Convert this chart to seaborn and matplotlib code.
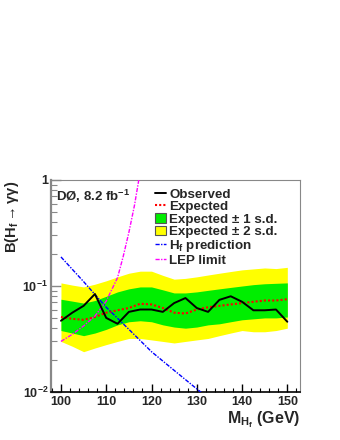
import numpy as np
import pandas as pd
import matplotlib
matplotlib.use("Agg")
import matplotlib.pyplot as plt
import seaborn as sns
from matplotlib.lines import Line2D
from matplotlib.patches import Patch
from matplotlib.ticker import FixedLocator, FixedFormatter, LogLocator, NullFormatter, MultipleLocator

mass = [100, 102.5, 105, 107.5, 110, 112.5, 115, 117.5, 120, 122.5, 125,
        127.5, 130, 132.5, 135, 137.5, 140, 142.5, 145, 147.5, 150]
observed = [0.047, 0.056, 0.065, 0.084, 0.050, 0.044, 0.057, 0.060, 0.060, 0.057, 0.069,
            0.077, 0.062, 0.057, 0.074, 0.080, 0.071, 0.059, 0.059, 0.060, 0.046]
expected = [0.051, 0.049, 0.048, 0.051, 0.056, 0.059, 0.062, 0.068, 0.067, 0.062, 0.056,
            0.055, 0.060, 0.063, 0.065, 0.067, 0.069, 0.071, 0.073, 0.073, 0.075]
plus1 = [0.075, 0.072, 0.069, 0.073, 0.080, 0.088, 0.094, 0.098, 0.098, 0.092, 0.086,
         0.086, 0.088, 0.091, 0.094, 0.097, 0.100, 0.103, 0.105, 0.106, 0.107]
minus1 = [0.038, 0.036, 0.034, 0.036, 0.039, 0.043, 0.046, 0.047, 0.046, 0.043, 0.041,
          0.040, 0.041, 0.043, 0.044, 0.046, 0.048, 0.049, 0.050, 0.050, 0.051]
plus2 = [0.107, 0.102, 0.098, 0.104, 0.112, 0.122, 0.132, 0.138, 0.138, 0.126, 0.116,
         0.118, 0.122, 0.127, 0.132, 0.137, 0.142, 0.145, 0.148, 0.146, 0.150]
minus2 = [0.030, 0.027, 0.024, 0.026, 0.028, 0.030, 0.032, 0.032, 0.031, 0.030, 0.029,
          0.030, 0.031, 0.032, 0.034, 0.036, 0.038, 0.037, 0.037, 0.038, 0.040]

pred_mass = [100, 105, 110, 115, 120, 125, 130, 132.5]
pred_val = [0.188, 0.110, 0.063, 0.039, 0.024, 0.016, 0.0107, 0.0088]

lep_mass = [100, 102.5, 105, 107.5, 110, 112.5, 113.75, 115, 116.25, 117.5]
lep_val = [0.030, 0.035, 0.042, 0.052, 0.072, 0.12, 0.19, 0.32, 0.58, 1.2]

x_ticks = [100, 110, 120, 130, 140, 150]
x_ticklabels = ["100", "110", "120", "130", "140", "150"]
y_ticks = [0.01, 0.1, 1]
y_ticklabels = [r"$\mathbf{10^{-2}}$", r"$\mathbf{10^{-1}}$", "1"]

sns.set_style("white")
plt.rcParams["font.family"] = ["Liberation Sans", "DejaVu Sans"]
plt.rcParams["font.weight"] = "bold"
plt.rcParams["mathtext.fontset"] = "custom"
plt.rcParams["mathtext.rm"] = "Liberation Sans:bold"
plt.rcParams["mathtext.bf"] = "Liberation Sans:bold"
plt.rcParams["mathtext.it"] = "Liberation Sans:bold"

fig = plt.figure(figsize=(3.4, 4.4), dpi=100)
ax = fig.add_axes([51/340, 1 - 392/440, (300 - 51)/340, (392 - 180)/440])

ax.fill_between(mass, minus2, plus2, color="#ffff00", lw=0, zorder=1)
ax.fill_between(mass, minus1, plus1, color="#00ee00", lw=0, zorder=2)

df_obs = pd.DataFrame({"m": mass, "v": observed})
df_exp = pd.DataFrame({"m": mass, "v": expected})
df_pred = pd.DataFrame({"m": pred_mass, "v": pred_val})
df_lep = pd.DataFrame({"m": lep_mass, "v": lep_val})

sns.lineplot(data=df_exp, x="m", y="v", ax=ax, color="#ff0000", lw=1.5,
             linestyle=(0, (1, 1)), zorder=3)
sns.lineplot(data=df_pred, x="m", y="v", ax=ax, color="#0000ff", lw=1.0,
             linestyle=(0, (3, 1, 1, 1)), zorder=3)
sns.lineplot(data=df_lep, x="m", y="v", ax=ax, color="#ff00ff", lw=1.0,
             linestyle=(0, (3, 1, 1, 1)), zorder=3)
sns.lineplot(data=df_obs, x="m", y="v", ax=ax, color="black", lw=1.4, zorder=4)

ax.set_yscale("log")
ax.set_xlim(97.8, 152.8)
ax.set_ylim(0.01, 1)

ax.xaxis.set_major_locator(FixedLocator(x_ticks))
ax.xaxis.set_major_formatter(FixedFormatter(x_ticklabels))
ax.xaxis.set_minor_locator(MultipleLocator(2))
ax.yaxis.set_major_locator(FixedLocator(y_ticks))
ax.yaxis.set_major_formatter(FixedFormatter(y_ticklabels))
ax.yaxis.set_minor_locator(LogLocator(base=10, subs=np.arange(2, 10)))
ax.yaxis.set_minor_formatter(NullFormatter())

ax.tick_params(axis="x", which="major", direction="in", length=6, width=1.0,
               color="black", labelsize=9, pad=3, bottom=True, top=False)
ax.tick_params(axis="x", which="minor", direction="in", length=3, width=0.8,
               color="black", bottom=True, top=False)
ax.tick_params(axis="y", which="major", direction="in", length=7, width=1.0,
               color="#888888", labelsize=9, pad=2, left=True, right=False)
ax.tick_params(axis="y", which="minor", direction="in", length=4, width=0.8,
               color="#888888", left=True, right=False)
for lab in ax.get_xticklabels() + ax.get_yticklabels():
    lab.set_fontweight("bold")

ax.spines["left"].set_color("#888888")
ax.spines["left"].set_linewidth(1.6)
ax.spines["bottom"].set_color("black")
ax.spines["bottom"].set_linewidth(1.2)
for s in ["top", "right"]:
    ax.spines[s].set_color("#888888")
    ax.spines[s].set_linewidth(0.8)

ax.set_xlabel("")
ax.set_ylabel("")
fig.text(300/340, 1 - 423/440, r"M$_{\mathbf{H_f}}$ (GeV)", ha="right", va="baseline",
         fontsize=11.5, fontweight="bold")
fig.text(12/340, 1 - 181/440, r"B(H$_{\mathbf{f}}$$\rightarrow$γγ)", ha="center", va="top",
         rotation=90, fontsize=10.5, fontweight="bold")

ax.text(0.022, 0.965, r"DØ, 8.2 fb$^{\mathbf{-1}}$", transform=ax.transAxes,
        ha="left", va="top", fontsize=9.5, fontweight="bold")

handles = [
    Line2D([], [], color="black", lw=1.4),
    Line2D([], [], color="#ff0000", lw=1.5, linestyle=(0, (1, 1))),
    Patch(facecolor="#00ee00", edgecolor="#555555", lw=0.8),
    Patch(facecolor="#ffff00", edgecolor="#555555", lw=0.8),
    Line2D([], [], color="#0000ff", lw=1.0, linestyle=(0, (3, 1, 1, 1))),
    Line2D([], [], color="#ff00ff", lw=1.0, linestyle=(0, (3, 1, 1, 1))),
]
labels = ["Observed", "Expected", "Expected ± 1 s.d.", "Expected ± 2 s.d.",
          r"H$_{\mathbf{f}}$ prediction", "LEP limit"]
leg = ax.legend(handles, labels, loc="upper left", bbox_to_anchor=(0.418, 0.962),
                frameon=False, fontsize=9.6, handlelength=0.85, handletextpad=0.2,
                handleheight=0.75, labelspacing=0.0, borderpad=0, borderaxespad=0)
for t in leg.get_texts():
    t.set_fontweight("bold")

fig.savefig("out.png", dpi=100)
